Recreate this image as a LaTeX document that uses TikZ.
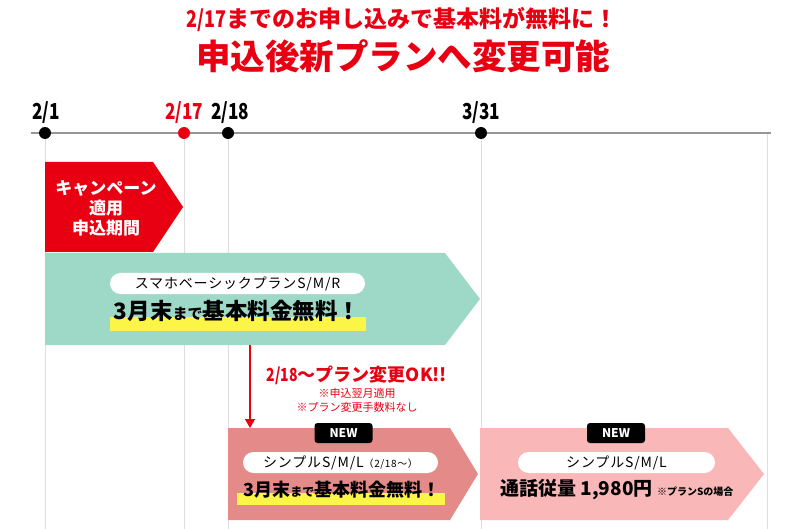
\documentclass[tikz,border=0pt]{standalone}
\usepackage{fontspec}
\setmainfont{Noto Sans CJK JP}
\usetikzlibrary{arrows.meta}

\definecolor{TLRed}{RGB}{232,0,18}
\definecolor{TLMint}{RGB}{158,217,200}
\definecolor{TLSalmon}{RGB}{228,138,136}
\definecolor{TLPink}{RGB}{250,183,183}
\definecolor{TLYellow}{RGB}{250,245,70}
\definecolor{TLGrid}{RGB}{222,222,222}
\definecolor{TLAxis}{RGB}{150,150,150}

\newcommand{\cond}[1]{\scalebox{0.78}[1]{#1}}
\newcommand{\fs}[1]{\fontsize{#1}{#1}\selectfont}

\begin{document}
\begin{tikzpicture}[x=1pt,y=-1pt,
  datelbl/.style={font=\fs{22}\bfseries},
  dot/.style={circle,fill=black,inner sep=0pt,minimum size=12pt},
  pill/.style={fill=white,rounded corners=10.5pt,minimum height=21pt,inner sep=0pt,
    font=\fs{14}\addfontfeature{LetterSpace=6}},
  newtag/.style={fill=black,rounded corners=3pt,text=white,font=\fs{12}\bfseries,
    minimum width=58pt,minimum height=20pt,inner sep=0pt},
  bigfree/.style={font=\bfseries,inner sep=0pt}]
  \useasboundingbox (0,0) rectangle (800,529);

  % heading
  \node[text=TLRed,font=\fs{23}\bfseries] (head1) at (402,20)
    {\cond{2/17}までのお申し込みで基本料が無料に！};
  \node[text=TLRed,font=\fs{34.5}\bfseries] (head2) at (403,56) {申込後新プランへ変更可能};

  % time axis
  \foreach \x in {45,184,228,481,767} {
    \draw[TLGrid] (\x,133) -- (\x,529);
  }
  \draw[TLAxis,line width=1.5pt] (31,133) -- (771,133);
  \node[dot] (p1) at (45,133) {};
  \node[dot,fill=TLRed] (p17) at (184,133) {};
  \node[dot] (p18) at (228,133) {};
  \node[dot] (p31) at (481,133) {};
  \node[datelbl] (d1) at (46,113) {\cond{2/1}};
  \node[datelbl,text=TLRed] (d17) at (184,113) {\cond{2/17}};
  \node[datelbl] (d18) at (230,113) {\cond{2/18}};
  \node[datelbl] (d31) at (481,113) {\cond{3/31}};

  % campaign period
  \fill[TLRed] (45,162) -- (153,162) -- (183,207) -- (153,252) -- (45,252) -- cycle;
  \node[text=white,font=\fontsize{17}{20}\selectfont\bfseries,align=center] (camp) at (106,208)
    {キャンペーン\\適用\\申込期間};

  % current plan
  \fill[TLMint] (45,253) -- (445,253) -- (480,299) -- (445,345) -- (45,345) -- cycle;
  \node[pill,minimum width=255pt] (plan1) at (237.5,283.5) {スマホベーシックプランS/M/R};
  \fill[TLYellow] (110,317) rectangle (366,331);
  \node[bigfree,font=\fs{22.5}\bfseries] (free1) at (237,311) {3月末{\fs{15}まで}基本料金無料！};

  % change
  \coordinate (chgtop) at (250,345);
  \coordinate (chgend) at (250,428);
  \draw[TLRed,line width=1.5pt,-{Triangle[length=9pt,width=10pt]}] (chgtop) -- (chgend);
  \node[text=TLRed,font=\fs{18}\bfseries] (okmsg) at (357,375) {\cond{2/18}〜プラン変更OK!!};
  \node[text=TLRed,font=\fs{11}] (note1) at (357,393) {※申込翌月適用};
  \node[text=TLRed,font=\fs{11}] (note2) at (357,407) {※プラン変更手数料なし};

  % new plan until 3/31
  \fill[TLSalmon] (228,428) -- (450,428) -- (478,474) -- (450,520) -- (228,520) -- cycle;
  \node[newtag] (new1) at (343.5,433) {NEW};
  \node[pill,minimum width=195pt] (plan2) at (340.5,462.5) {シンプルS/M/L{\fs{10}（2/18〜）}};
  \fill[TLYellow] (237,493) rectangle (445,505);
  \node[bigfree,font=\fs{18}\bfseries] (free2) at (342,490) {3月末{\fs{12}まで}基本料金無料！};

  % new plan after 3/31
  \fill[TLPink] (480,428) -- (728,428) -- (764,474) -- (728,520) -- (480,520) -- cycle;
  \node[newtag] (new2) at (616,433) {NEW};
  \node[pill,minimum width=197pt] (plan3) at (616.5,462.5) {シンプルS/M/L};
  \node[bigfree,font=\fs{19}\bfseries] (price) at (576.5,490) {通話従量 1,980円};
  \node[anchor=base west,inner sep=0pt,font=\fs{10}\bfseries] (pricenote) at ([xshift=4pt]price.base east)
    {※プランSの場合};
\end{tikzpicture}
\end{document}
